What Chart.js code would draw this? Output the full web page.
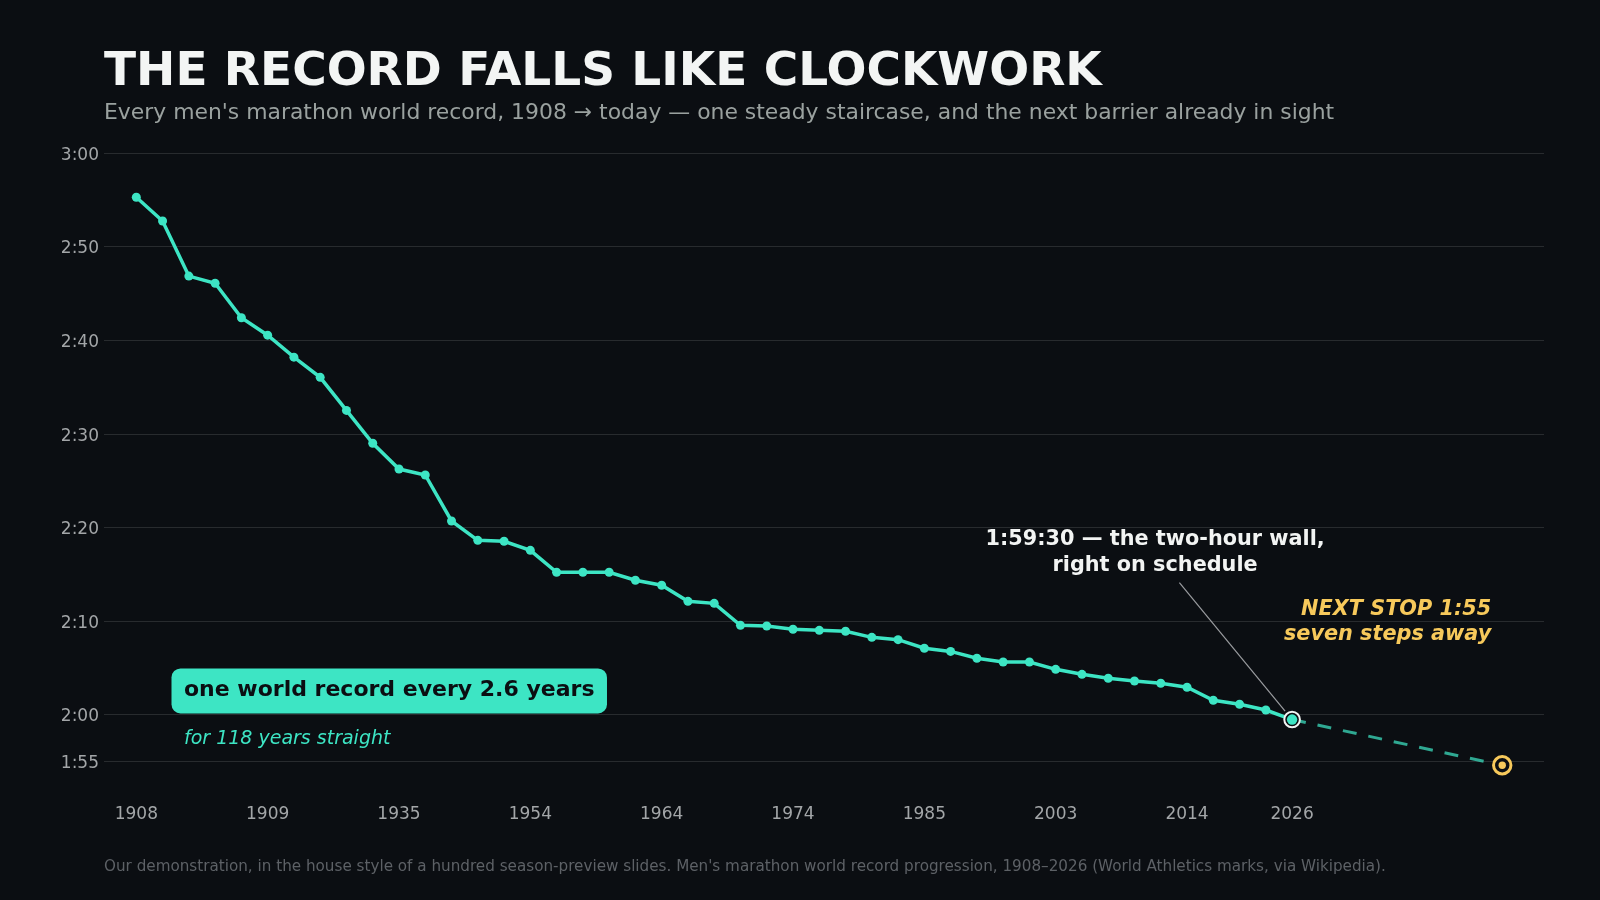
<!DOCTYPE html>
<html><head><meta charset="utf-8">
<script src="https://cdn.jsdelivr.net/npm/chart.js@4.4.1/dist/chart.umd.min.js"></script>
<style>
html,body{margin:0;padding:0;background:#0b0e12;width:1600px;height:900px;overflow:hidden;font-family:"DejaVu Sans",sans-serif;}
#wrap{position:relative;width:1600px;height:900px;}
canvas{position:absolute;left:0;top:0;}
.t{position:absolute;white-space:nowrap;line-height:1;}
#title{left:104px;top:45px;font-size:47px;font-weight:bold;color:#f3f5f4;}
#sub{left:104px;top:101px;font-size:21.9px;color:#9aa19f;}
#foot{left:104px;top:858.5px;font-size:15.2px;color:#5d6166;}
</style></head>
<body><div id="wrap">
<canvas id="c" width="1600" height="900"></canvas>
<div class="t" id="title">THE RECORD FALLS LIKE CLOCKWORK</div>
<div class="t" id="sub">Every men's marathon world record, 1908 → today — one steady staircase, and the next barrier already in sight</div>
<div class="t" id="foot">Our demonstration, in the house style of a hundred season-preview slides. Men's marathon world record progression, 1908–2026 (World Athletics marks, via Wikipedia).</div>
</div>
<script>
// ---- data ----
const recordTimes = ['2:55:18','2:52:46','2:46:53','2:46:07','2:42:26','2:40:34','2:38:13','2:36:04','2:32:32','2:29:01',
  '2:26:16','2:25:38','2:20:43','2:18:39','2:18:33','2:17:35','2:15:14','2:15:14','2:15:14','2:14:23',
  '2:13:51','2:12:08','2:11:55','2:09:34','2:09:30','2:09:09','2:09:02','2:08:56','2:08:17','2:08:02',
  '2:07:07','2:06:47','2:06:03','2:05:39','2:05:39','2:04:52','2:04:20','2:03:55','2:03:37','2:03:23',
  '2:02:57','2:01:34','2:01:08','2:00:31','1:59:30'];
const tickIndex = [0,5,10,15,20,25,30,35,40,44];
const tickYears = ['1908','1909','1935','1954','1964','1974','1985','2003','2014','2026'];
const yTickLabels = ['1:55','2:00','2:10','2:20','2:30','2:40','2:50','3:00'];
const nextStepIndex = 52;
const nextTime = '1:54:37';

const toMin = s => { const p = s.split(':').map(Number); return p.length===3 ? p[0]*60+p[1]+p[2]/60 : p[0]*60+p[1]; };
const fmt = m => { const h = Math.floor(m/60); const mm = Math.round(m - h*60); return h + ':' + String(mm).padStart(2,'0'); };

const TEAL = '#3de5c4', YELLOW = '#f7c95b', BG = '#0b0e12';
const lastIdx = recordTimes.length - 1;
const recordData = recordTimes.map((t,i)=>({x:i, y:toMin(t)}));
const projData = [{x:lastIdx, y:toMin(recordTimes[lastIdx])},{x:nextStepIndex, y:toMin(nextTime)}];

const overlay = {
  id:'overlay',
  afterDatasetsDraw(chart){
    const ctx = chart.ctx, ys = chart.scales.y, ca = chart.chartArea;
    const last = chart.getDatasetMeta(0).data[lastIdx];
    const next = chart.getDatasetMeta(1).data[1];
    ctx.save();
    // projection target
    ctx.beginPath(); ctx.arc(next.x, next.y, 8.7, 0, Math.PI*2);
    ctx.fillStyle = BG; ctx.fill();
    ctx.lineWidth = 3; ctx.strokeStyle = YELLOW; ctx.stroke();
    ctx.beginPath(); ctx.arc(next.x, next.y, 3.7, 0, Math.PI*2); ctx.fillStyle = YELLOW; ctx.fill();
    // highlight ring on latest record
    ctx.beginPath(); ctx.arc(last.x, last.y, 7.8, 0, Math.PI*2);
    ctx.fillStyle = BG; ctx.fill();
    ctx.lineWidth = 2; ctx.strokeStyle = '#f2f4f3'; ctx.stroke();
    ctx.beginPath(); ctx.arc(last.x, last.y, 5.2, 0, Math.PI*2); ctx.fillStyle = TEAL; ctx.fill();
    // connector
    const sx = last.x - 112.7, sy = last.y - 137;
    const dx = last.x - sx, dy = last.y - sy, L = Math.hypot(dx,dy);
    ctx.beginPath(); ctx.moveTo(sx, sy); ctx.lineTo(last.x - dx/L*11, last.y - dy/L*11);
    ctx.lineWidth = 1.2; ctx.strokeStyle = '#9a9c9f'; ctx.stroke();
    // callout text
    ctx.font = 'bold 20.8px "DejaVu Sans"'; ctx.fillStyle = '#f2f4f3';
    ctx.textAlign = 'center'; ctx.textBaseline = 'middle';
    ctx.fillText('1:59:30 — the two-hour wall,', last.x - 137, last.y - 180);
    ctx.fillText('right on schedule', last.x - 137, last.y - 154);
    // next stop text
    ctx.font = 'italic bold 20.8px "DejaVu Sans"'; ctx.fillStyle = YELLOW; ctx.textAlign = 'right';
    ctx.fillText('NEXT STOP 1:55', next.x - 11, next.y - 156);
    ctx.fillText('seven steps away', next.x - 11, next.y - 130.5);
    // pill box
    const y2 = ys.getPixelForValue(120);
    ctx.font = 'bold 22px "DejaVu Sans"';
    const label = 'one world record every 2.6 years';
    const w = ctx.measureText(label).width + 25;
    const bx = ca.left + 67.5, by = y2 - 46.5, bh = 45;
    ctx.beginPath(); ctx.roundRect(bx, by, w, bh, 9); ctx.fillStyle = TEAL; ctx.fill();
    ctx.fillStyle = BG; ctx.textAlign = 'left'; ctx.textBaseline = 'middle';
    ctx.fillText(label, bx + 12.5, by + bh/2 - 1);
    ctx.font = 'italic 19px "DejaVu Sans"'; ctx.fillStyle = TEAL;
    ctx.fillText('for 118 years straight', bx + 12.5, y2 + 24.5);
    ctx.restore();
  }
};

Chart.defaults.font.family = '"DejaVu Sans", sans-serif';
new Chart(document.getElementById('c'), {
  type:'line',
  data:{datasets:[
    {data:recordData, borderColor:TEAL, backgroundColor:TEAL, borderWidth:3.5, pointRadius:4.5, pointHoverRadius:4.5,
     pointBorderWidth:0, tension:0, order:1},
    {data:projData, borderColor:'rgba(61,229,196,0.72)', borderWidth:3, borderDash:[14,12], pointRadius:0, tension:0, order:2}
  ]},
  options:{
    responsive:false, animation:false, devicePixelRatio:1,
    layout:{padding:{top:153.3, left:0, right:56, bottom:69.6}},
    plugins:{legend:{display:false}, tooltip:{enabled:false}},
    scales:{
      x:{type:'linear', min:-1.23, max:53.59,
         grid:{display:false, drawTicks:false}, border:{display:false},
         afterBuildTicks(s){ s.ticks = tickIndex.map(v=>({value:v})); },
         afterFit(s){ s.height = 50; },
         ticks:{padding:24, color:'#a3a6a8', font:{size:17}, maxRotation:0, autoSkip:false,
           callback:(v)=>{ const k = tickIndex.indexOf(v); return k>=0 ? tickYears[k] : ''; }}},
      y:{min:113, max:180,
         grid:{color:'rgba(255,255,255,0.12)', lineWidth:1, drawTicks:false}, border:{display:false},
         afterBuildTicks(s){ s.ticks = yTickLabels.map(l=>({value:toMin(l)})); },
         afterFit(s){ s.width = 104; },
         ticks:{padding:5, labelOffset:2, color:'#a3a6a8', font:{size:17}, callback:(v)=>fmt(v)}}
    }
  },
  plugins:[overlay]
});
</script>
</body></html>
